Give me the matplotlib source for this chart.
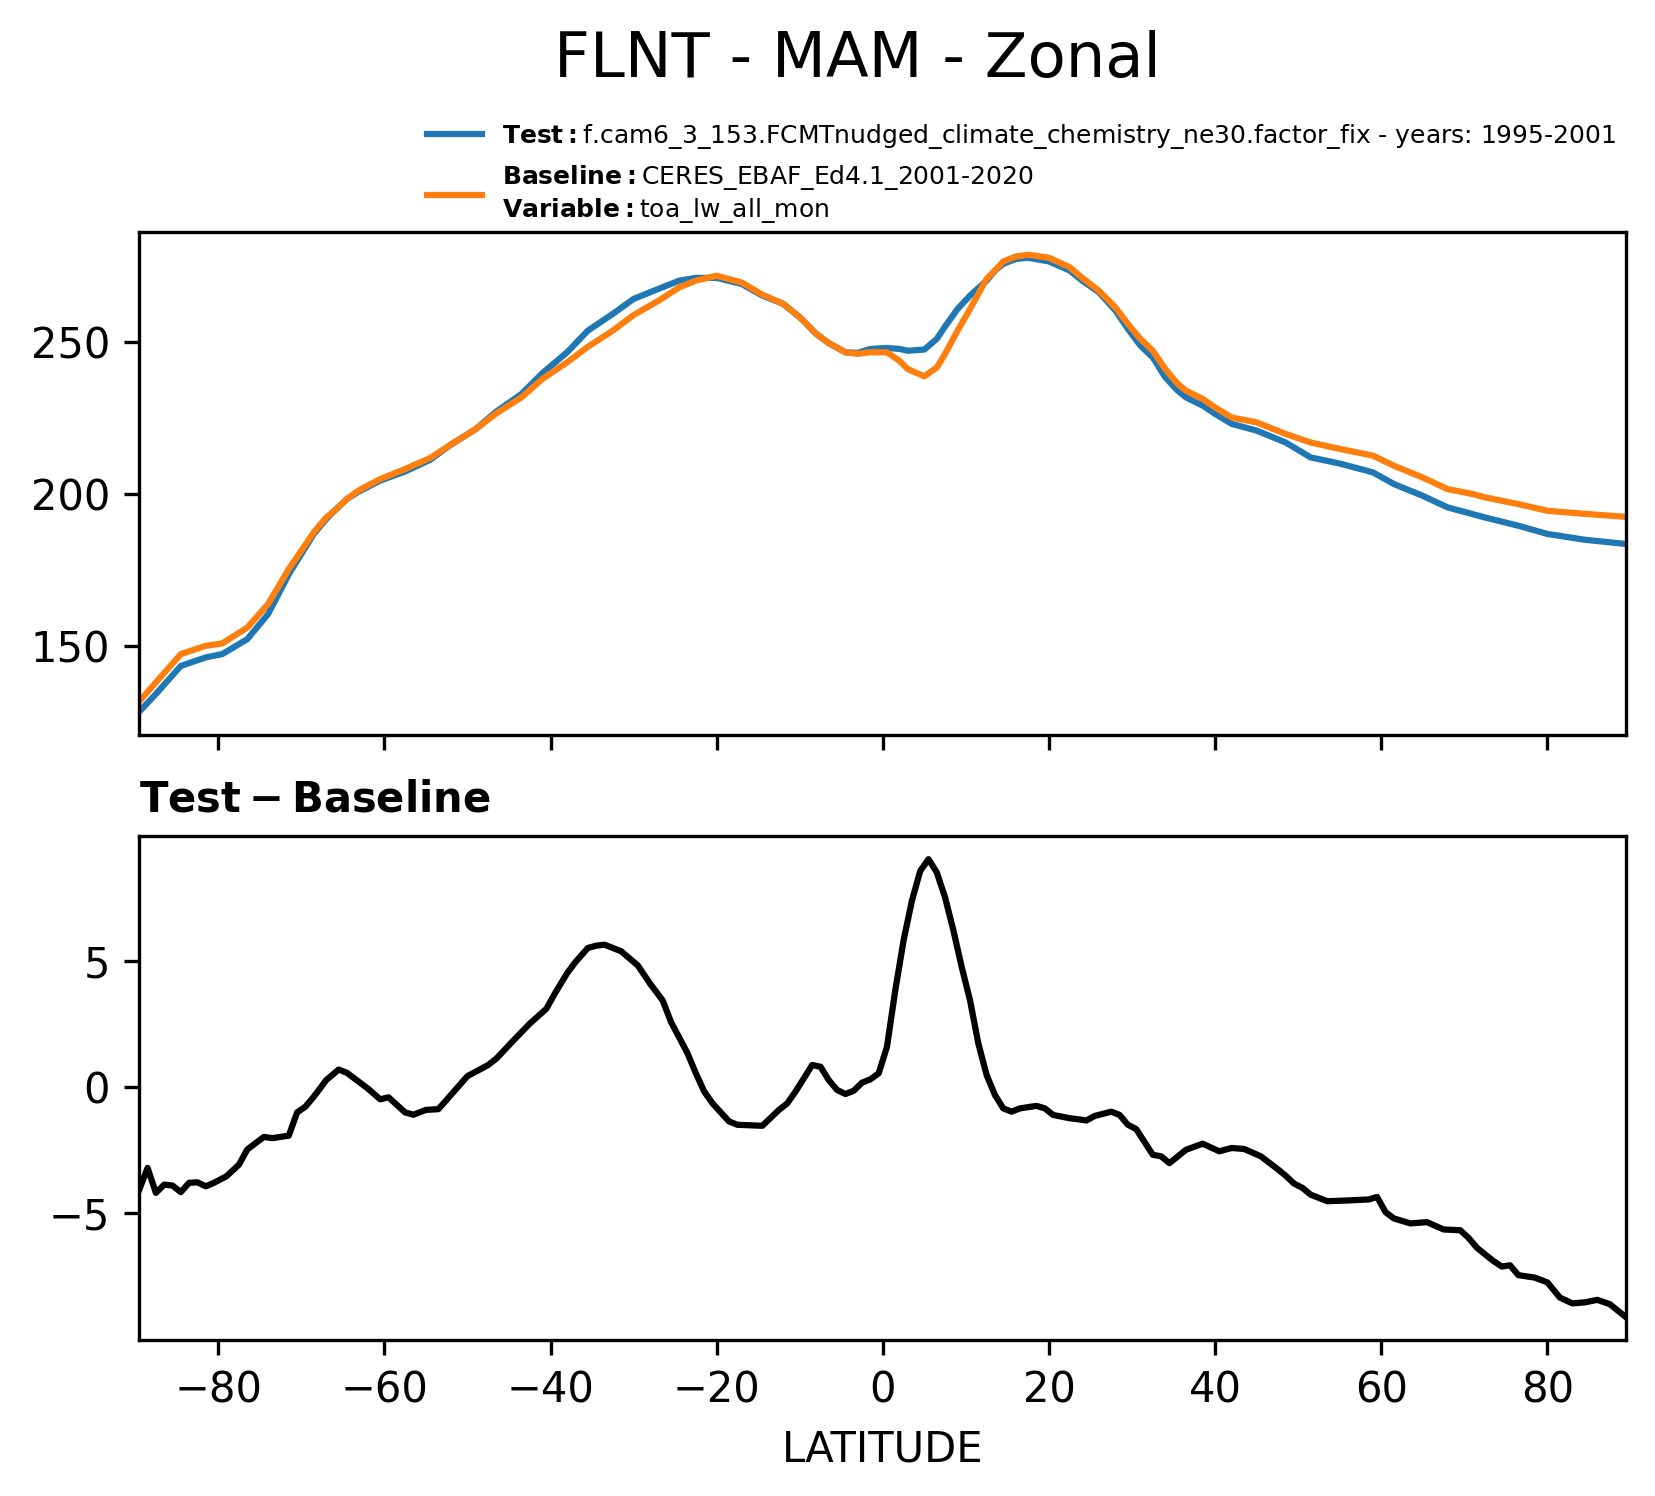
import numpy as np
import matplotlib.pyplot as plt

# zonal means
lat_zonal = [-89.5, -87.5, -84.5, -81.5, -79.5, -76.5, -74.0, -71.5, -68.5, -67.0,
             -66.0, -64.5, -63.0, -60.5, -57.5, -54.5, -52.0, -49.0, -46.5, -43.5,
             -41.0, -38.0, -35.5, -32.5, -30.0, -27.0, -24.5, -22.5, -20.0, -17.0,
             -14.5, -12.0, -10.0, -8.0, -6.5, -4.5, -3.0, -1.5, 0.5, 2.0,
             3.0, 5.0, 6.5, 7.5, 9.0, 10.5, 12.5, 13.5, 14.5, 16.0,
             17.5, 20.0, 22.5, 24.0, 26.0, 28.0, 29.5, 31.0, 32.5, 34.0,
             35.5, 36.5, 38.5, 40.0, 42.0, 45.0, 48.5, 51.5, 55.0, 59.0,
             61.5, 65.0, 68.0, 71.0, 72.5, 76.5, 80.0, 84.5, 89.5]
test = [128.6, 134.4, 143.6, 146.4, 147.5, 152.4, 160.6, 173.7, 186.9, 191.8,
        194.5, 198.4, 200.9, 204.4, 207.4, 211.2, 216.2, 221.3, 227.1, 232.8,
        239.6, 246.5, 253.6, 259.1, 264.0, 267.3, 270.0, 270.9, 270.9, 268.9,
        265.1, 262.4, 258.0, 252.5, 249.5, 246.5, 246.3, 247.6, 247.9, 247.6,
        247.0, 247.4, 250.9, 255.0, 260.7, 265.1, 270.0, 273.3, 275.5, 277.1,
        277.5, 276.3, 273.3, 270.0, 266.2, 260.2, 254.2, 248.7, 244.8, 238.3,
        233.9, 231.7, 229.0, 226.3, 223.0, 220.8, 216.9, 212.0, 210.0, 207.1,
        203.3, 199.4, 195.6, 193.4, 192.3, 189.6, 186.9, 185.0, 183.6]
baseline = [132.0, 138.2, 147.5, 150.2, 151.0, 156.2, 163.9, 175.4, 187.4, 192.3,
            194.5, 198.4, 201.3, 204.9, 208.2, 211.8, 216.2, 221.3, 226.5, 231.7,
            237.7, 243.2, 248.3, 253.6, 258.7, 263.4, 267.8, 270.0, 271.6, 269.4,
            265.4, 262.4, 258.0, 252.5, 249.5, 246.5, 246.0, 246.5, 246.5, 243.7,
            241.0, 238.6, 241.5, 246.0, 253.6, 260.7, 270.6, 273.3, 276.3, 277.9,
            278.5, 277.5, 274.4, 270.9, 266.7, 261.2, 255.8, 250.9, 247.0, 241.0,
            236.1, 233.9, 231.2, 228.4, 225.1, 223.5, 219.7, 216.9, 214.8, 212.6,
            209.3, 205.4, 201.6, 200.0, 198.9, 196.7, 194.5, 193.5, 192.5]

# test - baseline
lat_diff = [-89.5, -88.5, -87.5, -86.5, -85.5, -84.5, -83.5, -82.5, -81.5, -80.5,
            -79.0, -77.5, -76.5, -74.5, -73.5, -71.5, -70.5, -69.5, -68.5, -67.0,
            -65.5, -64.5, -62.0, -60.5, -59.5, -57.5, -56.5, -55.0, -53.5, -52.5,
            -50.0, -47.5, -46.5, -44.5, -42.5, -40.5, -39.5, -38.0, -37.0, -35.5,
            -34.5, -33.5, -31.5, -29.5, -28.0, -26.5, -25.5, -23.5, -22.5, -21.5,
            -20.5, -18.5, -17.5, -14.5, -12.5, -11.5, -10.5, -8.5, -7.5, -6.5,
            -5.5, -4.5, -3.5, -2.5, -1.5, -0.5, 0.5, 1.5, 2.5, 3.5,
            4.5, 5.5, 6.5, 7.5, 8.5, 9.5, 10.5, 11.5, 12.5, 13.5,
            14.5, 15.5, 16.5, 18.5, 19.5, 20.5, 22.5, 23.5, 24.5, 25.5,
            27.5, 28.5, 29.5, 30.5, 32.5, 33.5, 34.5, 36.5, 38.5, 40.5,
            42.0, 43.5, 45.5, 47.5, 48.5, 49.5, 50.5, 51.5, 53.5, 56.0,
            58.5, 59.5, 60.5, 61.5, 63.5, 65.5, 67.5, 69.5, 70.5, 71.5,
            72.5, 73.5, 74.5, 75.5, 76.5, 78.5, 80.0, 81.5, 83.0, 84.5,
            86.0, 87.5, 89.5]
diff = [-4.08, -3.22, -4.21, -3.88, -3.92, -4.18, -3.81, -3.79, -3.95, -3.81,
        -3.55, -3.09, -2.49, -1.99, -2.04, -1.94, -1.02, -0.79, -0.40, 0.26,
        0.68, 0.55, -0.07, -0.50, -0.42, -1.02, -1.11, -0.92, -0.89, -0.52,
        0.42, 0.86, 1.12, 1.82, 2.50, 3.09, 3.68, 4.50, 4.94, 5.50,
        5.59, 5.63, 5.37, 4.81, 4.08, 3.42, 2.57, 1.32, 0.53, -0.19,
        -0.66, -1.38, -1.51, -1.55, -0.92, -0.66, -0.19, 0.86, 0.79, 0.26,
        -0.13, -0.29, -0.16, 0.16, 0.29, 0.53, 1.58, 3.82, 5.80, 7.37,
        8.55, 9.02, 8.49, 7.50, 6.19, 4.74, 3.42, 1.71, 0.46, -0.33,
        -0.86, -0.99, -0.86, -0.76, -0.86, -1.12, -1.25, -1.29, -1.34, -1.16,
        -0.99, -1.12, -1.51, -1.68, -2.70, -2.76, -3.03, -2.50, -2.26, -2.56,
        -2.43, -2.47, -2.76, -3.26, -3.53, -3.84, -4.01, -4.28, -4.54, -4.51,
        -4.47, -4.37, -4.97, -5.22, -5.42, -5.37, -5.66, -5.69, -5.99, -6.38,
        -6.65, -6.91, -7.13, -7.08, -7.47, -7.57, -7.76, -8.36, -8.59, -8.55,
        -8.45, -8.62, -9.15]

test_name = "f.cam6_3_153.FCMTnudged_climate_chemistry_ne30.factor_fix - years: 1995-2001"
base_name = "CERES_EBAF_Ed4.1_2001-2020"
var_name = "toa_lw_all_mon"

fig = plt.figure(figsize=(5.52, 4.9867), dpi=300)
ax1 = fig.add_axes([0.0841, 0.509, 0.898, 0.336])
ax2 = fig.add_axes([0.0841, 0.104, 0.898, 0.337], sharex=ax1)

ax1.plot(lat_zonal, test, color="#1f77b4", lw=1.5,
         label=r"$\bf{Test}:$" + test_name)
ax1.plot(lat_zonal, baseline, color="#ff7f0e", lw=1.5,
         label=r"$\bf{Baseline}:$" + base_name + "\n" + r"$\bf{Variable}:$" + var_name)
ax1.set_yticks([150, 200, 250])
ax1.tick_params(labelbottom=False)
ax1.legend(loc="lower right", bbox_to_anchor=(1, 0.993), frameon=False, fontsize=6,
           handlelength=2.2, borderaxespad=0)

ax2.plot(lat_diff, diff, color="black", lw=1.5)
ax2.set_yticks([-5, 0, 5])
ax2.set_title(r"$\mathbf{Test - Baseline}$", loc="left", fontsize=10)
ax2.set_xlim(-89.5, 89.5)
ax2.set_xticks(np.arange(-80, 81, 20))
ax2.set_xlabel("LATITUDE")

fig.text(0.518, 0.9487, "FLNT - MAM - Zonal", fontsize=15, ha="center", va="baseline")

fig.savefig("out.png", dpi=300)
